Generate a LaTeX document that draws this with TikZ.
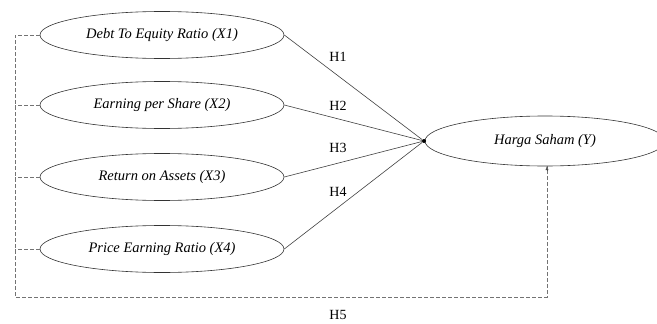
\documentclass[tikz,border=0pt]{standalone}
\usepackage{fontspec}
\setmainfont{Liberation Serif}
\usetikzlibrary{shapes.geometric,arrows.meta}
\begin{document}
\begin{tikzpicture}[x=1pt,y=-1pt,
  varnode/.style={ellipse,draw=black!80,line width=0.6pt,minimum width=244pt,minimum height=47pt,inner sep=0pt,font=\fontsize{14.5}{16}\selectfont\itshape},
  path/.style={draw=black!75,line width=0.6pt},
  moderate/.style={draw=black!55,line width=0.6pt,dash pattern=on 3.5pt off 2.5pt},
  hlabel/.style={font=\fontsize{14}{16}\selectfont}
]
\useasboundingbox (0,0) rectangle (657,324);
\begin{scope}
\clip (0,0) rectangle (657,324);
\node[varnode] (x1) at (162,35) {Debt To Equity Ratio (X1)};
\node[varnode] (x2) at (162,105) {Earning per Share (X2)};
\node[varnode] (x3) at (162,177) {Return on Assets (X3)};
\node[varnode] (x4) at (162,249) {Price Earning Ratio (X4)};
\node[varnode,minimum width=240pt,minimum height=50pt] (y) at (545,141) {Harga Saham (Y)};
\end{scope}

% junction where the four paths meet
\node[circle,fill=black,inner sep=0pt,minimum size=4pt] (j) at (424,141) {};

\draw[path] (x1.east) -- (j);
\draw[path] (x2.east) -- (j);
\draw[path] (x3.east) -- (j);
\draw[path] (x4.east) -- (j);

\node[hlabel] (h1) at (338,57) {H1};
\node[hlabel] (h2) at (338,106) {H2};
\node[hlabel] (h3) at (338,148) {H3};
\node[hlabel] (h4) at (338,192) {H4};
\node[hlabel] (h5) at (338,315) {H5};

% simultaneous effect: dashed frame joining all predictors to Y
\coordinate (tl) at (15,35);
\coordinate (bl) at (15,297);
\coordinate (br) at (547,297);
\coordinate (ys) at (547,166);
\draw[moderate] (x1.west) -- (tl) -- (bl) -- (br) -- (ys);
\draw[moderate] (x2.west) -- (15,105);
\draw[moderate] (x3.west) -- (15,177);
\draw[moderate] (x4.west) -- (15,249);
\draw[draw=black!70,-{Latex[length=4pt,width=3pt]}] (547,171) -- (ys);
\end{tikzpicture}
\end{document}
